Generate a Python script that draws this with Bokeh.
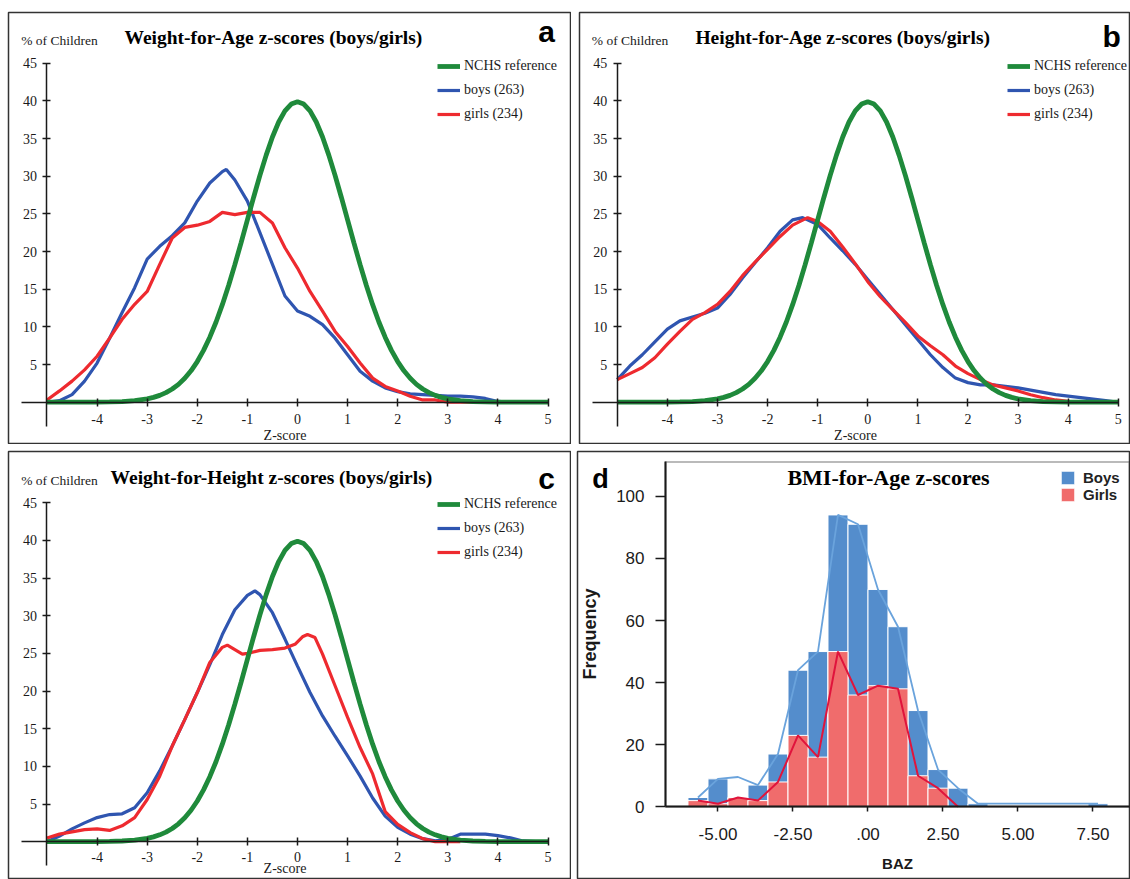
from bokeh.plotting import figure
from bokeh.models import (Range1d, LinearAxis, FixedTicker, Label, Legend,
                          LegendItem, BoxAnnotation)
from bokeh.layouts import column, row
from bokeh.embed import file_html
from bokeh.resources import INLINE

SERIF = "Liberation Serif"
SANS = "Liberation Sans"

# ---------------- data ----------------
# NCHS reference curve (% of children)
z_ref = [-5.0, -4.5, -4.0, -3.75, -3.5, -3.25, -3.0, -2.875, -2.75, -2.625, -2.5,
         -2.375, -2.25, -2.125, -2.0, -1.875, -1.75, -1.625, -1.5, -1.375, -1.25,
         -1.125, -1.0, -0.875, -0.75, -0.625, -0.5, -0.375, -0.25, -0.125, 0.0,
         0.125, 0.25, 0.375, 0.5, 0.625, 0.75, 0.875, 1.0, 1.125, 1.25,
         1.375, 1.5, 1.625, 1.75, 1.875, 2.0, 2.125, 2.25, 2.375, 2.5,
         2.625, 2.75, 2.875, 3.0, 3.25, 3.5, 3.75, 4.0, 4.5, 5.0]
nchs_ref = [0.0, 0.0, 0.0, 0.04, 0.09, 0.2, 0.44, 0.64, 0.91, 1.27, 1.75,
            2.37, 3.17, 4.17, 5.4, 6.88, 8.63, 10.65, 12.95, 15.49, 18.26,
            21.19, 24.2, 27.21, 30.11, 32.8, 35.21, 37.19, 38.67, 39.58, 39.89,
            39.58, 38.67, 37.19, 35.21, 32.8, 30.11, 27.21, 24.2, 21.19, 18.26,
            15.49, 12.95, 10.65, 8.63, 6.88, 5.4, 4.17, 3.17, 2.37, 1.75,
            1.27, 0.91, 0.64, 0.44, 0.2, 0.09, 0.04, 0.0, 0.0, 0.0]

# (a) Weight-for-Age
wfa_boys_z = [-5.0, -4.75, -4.5, -4.25, -4.0, -3.75, -3.5, -3.25, -3.0, -2.75, -2.5,
              -2.25, -2.0, -1.75, -1.5, -1.42, -1.25, -1.0, -0.75, -0.5, -0.25, 0.0,
              0.25, 0.5, 0.75, 1.0, 1.25, 1.5, 1.75, 2.0, 2.25, 2.5, 2.75, 3.0,
              3.25, 3.5, 3.75, 4.0, 4.25, 5.0]
wfa_boys = [0.0, 0.2, 1.0, 2.8, 5.2, 8.5, 11.9, 15.2, 19.0, 20.7, 22.1,
            23.8, 26.7, 29.1, 30.6, 30.9, 29.5, 26.7, 22.5, 18.3, 14.1, 12.1,
            11.4, 10.3, 8.5, 6.3, 4.1, 2.8, 1.9, 1.4, 1.1, 1.0, 0.9, 0.8,
            0.8, 0.7, 0.5, 0.1, 0.0, 0.0]
wfa_girls_z = [-5.0, -4.75, -4.5, -4.25, -4.0, -3.75, -3.5, -3.25, -3.0, -2.75, -2.5,
               -2.25, -2.0, -1.75, -1.5, -1.25, -1.0, -0.75, -0.5, -0.25, 0.0,
               0.25, 0.5, 0.75, 1.0, 1.25, 1.5, 1.75, 2.0, 2.25, 2.5, 2.75, 3.0, 5.0]
wfa_girls = [0.3, 1.5, 2.8, 4.3, 6.1, 8.5, 11.0, 13.0, 14.7, 18.3, 21.8,
             23.2, 23.5, 24.0, 25.2, 24.9, 25.2, 25.2, 23.8, 20.5, 17.8,
             14.7, 12.1, 9.4, 7.4, 5.2, 3.2, 2.1, 1.5, 0.8, 0.3, 0.3, 0.0, 0.0]

# (b) Height-for-Age
hfa_boys_z = [-5.0, -4.75, -4.5, -4.25, -4.0, -3.75, -3.5, -3.25, -3.0, -2.75, -2.5,
              -2.25, -2.0, -1.75, -1.5, -1.3, -1.0, -0.75, -0.5, -0.25, 0.0,
              0.25, 0.5, 0.75, 1.0, 1.25, 1.5, 1.75, 2.0, 2.25, 2.5, 2.75, 3.0,
              3.25, 3.5, 3.75, 4.0, 4.25, 4.5, 4.75, 5.0]
hfa_boys = [3.0, 4.8, 6.3, 8.0, 9.7, 10.8, 11.3, 11.8, 12.5, 14.3, 16.5,
            18.5, 20.5, 22.7, 24.2, 24.5, 23.6, 21.8, 20.1, 18.3, 16.3,
            14.3, 12.3, 10.3, 8.3, 6.3, 4.6, 3.2, 2.6, 2.3, 2.3, 2.1, 1.9,
            1.6, 1.3, 1.0, 0.8, 0.6, 0.4, 0.2, 0.0]
hfa_girls_z = [-5.0, -4.75, -4.5, -4.25, -4.0, -3.75, -3.5, -3.25, -3.0, -2.75, -2.5,
               -2.25, -2.0, -1.75, -1.5, -1.2, -1.0, -0.75, -0.5, -0.25, 0.0,
               0.25, 0.5, 0.75, 1.0, 1.25, 1.5, 1.75, 2.0, 2.25, 2.5, 2.75, 3.0,
               3.25, 3.5, 3.75, 4.0, 4.25, 5.0]
hfa_girls = [3.0, 3.8, 4.6, 5.9, 7.7, 9.4, 11.0, 11.9, 13.0, 14.7, 16.8,
             18.6, 20.3, 22.0, 23.5, 24.5, 24.0, 22.7, 20.6, 18.4, 16.0,
             14.0, 12.3, 10.6, 8.8, 7.5, 6.3, 4.8, 3.8, 3.0, 2.3, 1.9, 1.5,
             1.0, 0.6, 0.3, 0.1, 0.0, 0.0]

# (c) Weight-for-Height
wfh_boys_z = [-5.0, -4.75, -4.5, -4.25, -4.0, -3.75, -3.5, -3.25, -3.0, -2.75, -2.5,
              -2.25, -2.0, -1.75, -1.5, -1.25, -1.0, -0.85, -0.75, -0.5, -0.25, 0.0,
              0.25, 0.5, 0.75, 1.0, 1.25, 1.5, 1.75, 2.0, 2.25, 2.5, 2.75, 3.0,
              3.25, 3.5, 3.75, 4.0, 4.25, 4.5, 4.75]
wfh_boys = [0.0, 0.75, 1.7, 2.5, 3.2, 3.6, 3.7, 4.5, 6.5, 9.4, 12.7,
            16.2, 19.8, 23.5, 27.5, 30.8, 32.7, 33.3, 32.8, 30.4, 26.9, 23.3,
            19.8, 16.7, 14.0, 11.4, 8.7, 5.8, 3.4, 1.9, 1.0, 0.4, 0.1, 0.3,
            1.0, 1.0, 1.0, 0.8, 0.5, 0.1, 0.0]
wfh_girls_z = [-5.0, -4.75, -4.5, -4.25, -4.0, -3.75, -3.5, -3.25, -3.0, -2.75, -2.5,
               -2.25, -2.0, -1.75, -1.5, -1.4, -1.25, -1.1, -1.0, -0.75, -0.5, -0.25,
               -0.05, 0.1, 0.2, 0.35, 0.5, 0.75, 1.0, 1.25, 1.5, 1.75, 2.0, 2.25,
               2.5, 2.75, 3.25]
wfh_girls = [0.5, 1.0, 1.3, 1.6, 1.7, 1.5, 2.1, 3.2, 5.6, 8.7, 12.7,
             16.2, 19.8, 23.8, 25.8, 26.1, 25.5, 24.9, 25.0, 25.4, 25.5, 25.7,
             26.2, 27.2, 27.5, 27.1, 24.9, 20.7, 16.5, 12.5, 9.0, 4.0, 2.3, 1.2,
             0.4, 0.0, 0.0]

# (d) BMI-for-Age histogram (bins of 2/3 z-score)
baz_bins = [-5.667, -5.0, -4.333, -3.667, -3.0, -2.333, -1.667, -1.0, -0.333,
            0.333, 1.0, 1.667, 2.333, 3.0, 3.667, 7.667]
baz_boys = [3, 9, 3, 7, 17, 44, 50, 94, 91, 70, 58, 31, 12, 6, 1, 1]
baz_girls = [2, 1, 3, 2, 8, 23, 16, 50, 36, 39, 38, 10, 6, 0, 0, 0]
baz_boys_poly_x = [-5.667, -5.0, -4.333, -3.667, -3.0, -2.333, -1.667, -1.0, -0.333,
                   0.333, 1.0, 1.667, 2.333, 3.0, 3.667, 7.667]
baz_boys_poly = [3, 9, 9.6, 7, 17, 44, 50, 94, 91, 70, 58, 31, 12, 6, 1, 1]
baz_girls_poly_x = [-5.667, -5.0, -4.333, -3.667, -3.0, -2.333, -1.667, -1.0, -0.333,
                    0.333, 1.0, 1.667, 2.333, 3.0]
baz_girls_poly = [2, 1, 3, 2, 8, 23, 16, 50, 36, 39, 38, 10, 6, 0]

x_ticks = [-4, -3, -2, -1, 0, 1, 2, 3, 4, 5]
x_tick_labels = ["-4", "-3", "-2", "-1", "0", "1", "2", "3", "4", "5"]
y_ticks = [5, 10, 15, 20, 25, 30, 35, 40, 45]
baz_x_ticks = [-5, -2.5, 0, 2.5, 5, 7.5]
baz_x_labels = ["-5.00", "-2.50", ".00", "2.50", "5.00", "7.50"]
baz_y_ticks = [0, 20, 40, 60, 80, 100]

GREEN = "#1f8a3b"
BLUE = "#2f55b0"
RED = "#ee2a2f"
INK = "#1a1a1a"


def curve_panel(width, height, mb_left, mb_top, mb_bottom, xr, yr, title,
                title_xy, pct_xy, letter, letter_xy, boys_z, boys, girls_z, girls,
                legend_loc, tick_standoff=8, label_standoff=0):
    p = figure(width=width, height=height, x_range=Range1d(*xr), y_range=Range1d(*yr),
               x_axis_type=None, y_axis_type=None, toolbar_location=None,
               output_backend="svg", min_border_left=mb_left, min_border_right=0,
               min_border_top=mb_top, min_border_bottom=mb_bottom,
               outline_line_color="#333333", outline_line_width=1.5,
               background_fill_color="white", border_fill_color="white")
    xa = LinearAxis(fixed_location=0, bounds=(-5.5, 5), ticker=FixedTicker(ticks=x_ticks),
                    axis_label="Z-score")
    xa.major_label_overrides = {t: s for t, s in zip(x_ticks, x_tick_labels)}
    ya = LinearAxis(fixed_location=-5, bounds=(-3.2, 45), ticker=FixedTicker(ticks=y_ticks))
    for ax in (xa, ya):
        ax.axis_line_color = INK
        ax.axis_line_width = 1.5
        ax.major_tick_line_color = INK
        ax.major_tick_line_width = 1.5
        ax.major_tick_in = 4
        ax.major_tick_out = 4
        ax.minor_tick_line_color = None
        ax.major_label_text_font = SERIF
        ax.major_label_text_font_size = "14px"
        ax.major_label_text_color = INK
    xa.major_label_standoff = tick_standoff
    ya.major_label_standoff = 6
    xa.axis_label_text_font = SERIF
    xa.axis_label_text_font_size = "14px"
    xa.axis_label_text_font_style = "normal"
    xa.axis_label_text_color = INK
    xa.axis_label_standoff = label_standoff
    p.add_layout(xa, "below")
    p.add_layout(ya, "left")

    b = p.line(boys_z, boys, line_color=BLUE, line_width=3.2)
    g = p.line(girls_z, girls, line_color=RED, line_width=3.2)
    n = p.line(z_ref, nchs_ref, line_color=GREEN, line_width=4.8)

    legend = Legend(items=[LegendItem(label="NCHS reference", renderers=[n]),
                           LegendItem(label="boys (263)", renderers=[b]),
                           LegendItem(label="girls (234)", renderers=[g])],
                    location=legend_loc, label_text_font=SERIF,
                    label_text_font_size="14px", label_text_color=INK,
                    glyph_width=23, glyph_height=20, label_height=20, spacing=4,
                    padding=0, margin=0, label_standoff=4,
                    border_line_alpha=0, background_fill_alpha=0)
    p.add_layout(legend)

    p.add_layout(Label(x=title_xy[0], y=title_xy[1], text=title, text_font=SERIF,
                       text_font_size="19.5px", text_font_style="bold", text_color="#000",
                       text_align="center", text_baseline="middle"))
    p.add_layout(Label(x=pct_xy[0], y=pct_xy[1], text="% of Children", text_font=SERIF,
                       text_font_size="13.5px", text_color=INK,
                       text_align="left", text_baseline="middle"))
    p.add_layout(Label(x=letter_xy[0], y=letter_xy[1], text=letter, text_font=SANS,
                       text_font_size="30px", text_font_style="bold", text_color="#000",
                       text_align="center", text_baseline="alphabetic"))
    return p


# panel a: frame 8..571 x 12..443 ; 50.1 px/unit x, 7.533 px/unit y
pa = curve_panel(571, 444, 8, 12, 1, (-5.768, 5.469), (-5.48, 51.73),
                 "Weight-for-Age z-scores (boys/girls)", (-0.48, 48.4), (-5.515, 48.0),
                 "a", (4.97, 49.2), wfa_boys_z, wfa_boys, wfa_girls_z, wfa_girls,
                 (429, 319))
pb = curve_panel(559, 444, 8, 12, 1, (-5.754, 5.244), (-5.48, 51.73),
                 "Height-for-Age z-scores (boys/girls)", (-0.5, 48.4), (-5.507, 48.0),
                 "b", (4.87, 48.6), hfa_boys_z, hfa_boys, hfa_girls_z, hfa_girls,
                 (428, 319))
pc = curve_panel(571, 435, 8, 7, 0, (-5.768, 5.469), (-5.02, 51.80),
                 "Weight-for-Height z-scores (boys/girls)", (-0.52, 48.4), (-5.515, 48.0),
                 "c", (4.97, 48.2), wfh_boys_z, wfh_boys, wfh_girls_z, wfh_girls,
                 (429, 317), tick_standoff=6, label_standoff=-4)

# panel d: frame 577..1130 x 451..879 ; 30 px/unit x, 3.105 px/unit y
pd_ = figure(width=559, height=435, x_range=Range1d(-9.683, 8.75),
             y_range=Range1d(-23.41, 114.43), x_axis_type=None, y_axis_type=None,
             toolbar_location=None, output_backend="svg", min_border_left=6,
             min_border_right=0, min_border_top=7, min_border_bottom=0,
             outline_line_color="#333333", outline_line_width=1.5,
             background_fill_color="white", border_fill_color="white")
BAR_BLUE = "#548dcc"
BAR_RED = "#f06c6c"
rb = pd_.vbar(x=baz_bins, width=0.6667, top=baz_boys, bottom=0, fill_color=BAR_BLUE,
              line_color="white", line_width=1)
rr = pd_.vbar(x=baz_bins, width=0.6667, top=baz_girls, bottom=0, fill_color=BAR_RED,
              line_color="white", line_width=1)
pd_.line(baz_boys_poly_x, baz_boys_poly, line_color="#6aa3dc", line_width=1.8)
pd_.line(baz_girls_poly_x, baz_girls_poly, line_color="#e0143c", line_width=2)

dxa = LinearAxis(fixed_location=0, bounds=(-6.75, 8.72), ticker=FixedTicker(ticks=baz_x_ticks),
                 axis_label="BAZ")
dxa.major_label_overrides = {t: s for t, s in zip(baz_x_ticks, baz_x_labels)}
dya = LinearAxis(fixed_location=-6.75, bounds=(0, 111.06),
                 ticker=FixedTicker(ticks=baz_y_ticks), axis_label="Frequency")
for ax in (dxa, dya):
    ax.axis_line_color = INK
    ax.axis_line_width = 2
    ax.major_tick_line_color = INK
    ax.major_tick_line_width = 1.5
    ax.major_tick_in = 0
    ax.minor_tick_line_color = None
    ax.major_label_text_font = SANS
    ax.major_label_text_font_size = "17px"
    ax.major_label_text_color = INK
    ax.axis_label_text_font = SANS
    ax.axis_label_text_font_style = "bold"
    ax.axis_label_text_color = INK
dxa.major_tick_out = 5
dxa.major_label_standoff = 16
dxa.axis_label_text_font_size = "15px"
dxa.axis_label_standoff = 12
dya.major_tick_out = 10
dya.major_label_standoff = 11
dya.axis_label_text_font_size = "18px"
dya.axis_label_standoff = 13
pd_.add_layout(dxa, "below")
pd_.add_layout(dya, "left")
pd_.add_layout(BoxAnnotation(left=-6.75, right=8.72, bottom=0, top=111.06,
                             fill_alpha=0, line_color=INK, line_width=2))

dleg = Legend(items=[LegendItem(label="Boys", renderers=[rb]),
                     LegendItem(label="Girls", renderers=[rr])],
              location=(482, 376), label_text_font=SANS, label_text_font_size="15px",
              label_text_font_style="bold", label_text_color="#222",
              glyph_width=17, glyph_height=17, label_height=17, spacing=0,
              padding=0, margin=0, label_standoff=7,
              border_line_alpha=0, background_fill_alpha=0)
pd_.add_layout(dleg)
pd_.add_layout(Label(x=0.683, y=106.1, text="BMI-for-Age z-scores", text_font=SERIF,
                     text_font_size="22px", text_font_style="bold", text_color="#000",
                     text_align="center", text_baseline="middle"))
pd_.add_layout(Label(x=-9.19, y=105.6, text="d", text_font=SANS, text_font_size="27px",
                     text_font_style="bold", text_color="#000",
                     text_align="left", text_baseline="alphabetic"))

layout = column(row(pa, pb), row(pc, pd_))
open("out.html", "w").write(file_html(layout, INLINE))
